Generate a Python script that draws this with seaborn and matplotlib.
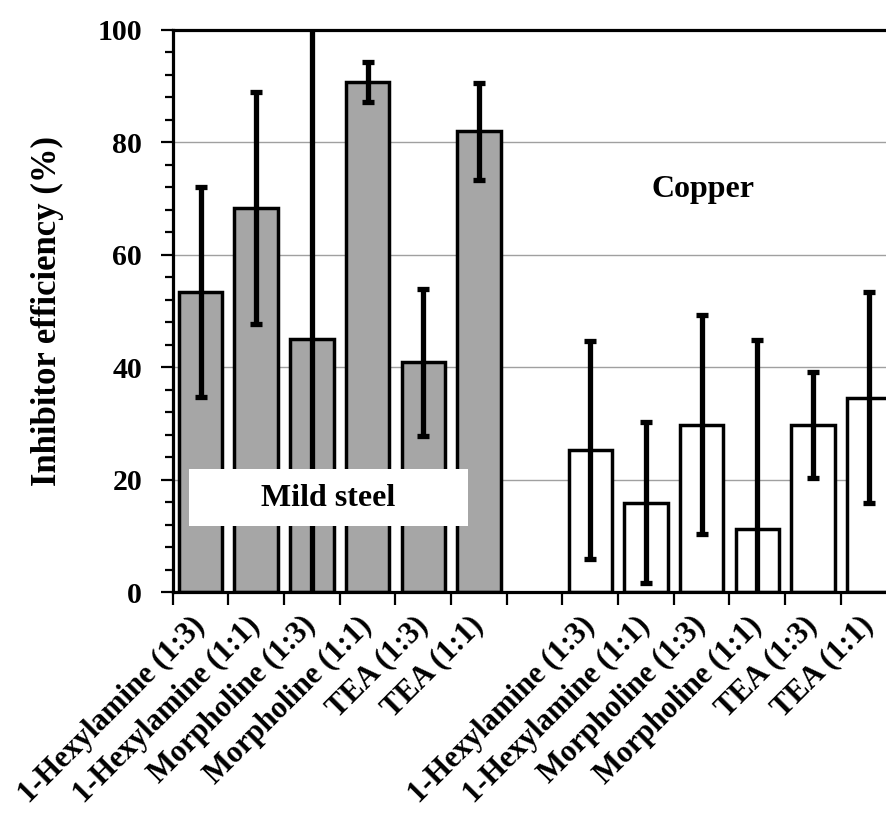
import matplotlib
matplotlib.use("Agg")
import matplotlib.pyplot as plt
from matplotlib.patches import Rectangle
from matplotlib.ticker import MultipleLocator, FixedLocator
import numpy as np
import pandas as pd
import seaborn as sns

# Inhibitor formulations (amine : acid ratio)
inhibitors = ["1-Hexylamine (1:3)", "1-Hexylamine (1:1)", "Morpholine (1:3)",
              "Morpholine (1:1)", "TEA (1:3)", "TEA (1:1)"]

# Mean inhibitor efficiency (%) and error (+/-) for each metal
steel_eff = [53.4, 68.3, 45.1, 90.7, 40.9, 82.0]
steel_err = [18.6, 20.6, 57.0, 3.6, 13.1, 8.6]
copper_eff = [25.3, 15.9, 29.8, 11.3, 29.8, 34.6]
copper_err = [19.4, 14.3, 19.5, 33.5, 9.4, 18.8]

metals = ["Mild steel", "Copper"]
bar_colors = {"Mild steel": "#a6a6a6", "Copper": "white"}

# Long-form table; each bar gets a unique key, with an empty slot between metals
rows = []
for metal, eff, err in [("Mild steel", steel_eff, steel_err),
                        ("Copper", copper_eff, copper_err)]:
    for name, v, e in zip(inhibitors, eff, err):
        rows.append({"key": f"{metal} | {name}", "inhibitor": name,
                     "metal": metal, "eff": v, "err": e})
df = pd.DataFrame(rows)

gap_key = "gap"
order = [f"Mild steel | {n}" for n in inhibitors] + [gap_key] + \
        [f"Copper | {n}" for n in inhibitors]
tick_text = inhibitors + [""] + inhibitors

sns.set_theme(style="white")
plt.rcParams["font.family"] = ["Liberation Serif", "DejaVu Serif"]
plt.rcParams["font.weight"] = "bold"
for key in ["text.color", "axes.labelcolor", "xtick.color", "ytick.color"]:
    plt.rcParams[key] = "black"

fig = plt.figure(figsize=(8.87, 8.14), dpi=100)
ax = fig.add_axes([0.1947, 0.2724, 0.8159, 0.6908])

sns.barplot(data=df, x="key", y="eff", hue="metal", order=order,
            hue_order=metals, palette=bar_colors, dodge=False, width=0.78,
            edgecolor="black", linewidth=2.5, errorbar=None, legend=False,
            ax=ax, zorder=2)

# Error bars at the categorical positions of each bar
pos = [order.index(k) for k in df["key"]]
ax.errorbar(pos, df["eff"], yerr=df["err"], fmt="none", ecolor="black",
            elinewidth=3.8, capsize=4.3, capthick=3.8, zorder=3)

ax.set_ylim(0, 100)
ax.set_xlim(-0.5, len(order) - 0.5)

# Horizontal gridlines behind the bars
ax.yaxis.set_major_locator(MultipleLocator(20))
ax.yaxis.set_minor_locator(MultipleLocator(4))
ax.grid(axis="y", which="major", color="#a0a0a0", linewidth=1.0, zorder=0)
ax.grid(axis="x", visible=False)
ax.set_axisbelow(True)

# Category labels at bar centres, tick marks at category boundaries
ax.xaxis.set_major_locator(FixedLocator(range(len(order))))
ax.set_xticklabels(tick_text, rotation=45, ha="right", va="center",
                   rotation_mode="anchor", fontsize=22, fontweight="bold")
ax.xaxis.set_minor_locator(FixedLocator(np.arange(-0.5, len(order), 1.0)))
ax.tick_params(axis="x", which="major", length=0, pad=21)
ax.tick_params(axis="x", which="minor", length=9, width=1.6,
               direction="out", color="black", bottom=True)

ax.tick_params(axis="y", which="major", length=9, width=1.6, direction="out",
               color="black", labelsize=21.5, pad=13, left=True)
ax.tick_params(axis="y", which="minor", length=6, width=1.6, direction="out",
               color="black", left=True)
for lab in ax.get_yticklabels():
    lab.set_fontweight("bold")

ax.set_xlabel("")
ax.set_ylabel("Inhibitor efficiency (%)", fontsize=25, fontweight="bold")
ax.yaxis.set_label_coords(-0.1735, 0.5)
ax.yaxis.label.set_va("center")

for side in ["left", "bottom", "top", "right"]:
    ax.spines[side].set_visible(True)
    ax.spines[side].set_color("black")
    ax.spines[side].set_linewidth(2.3)

# Group annotations
ax.add_patch(Rectangle((-0.2, 11.7), 5.01, 10.2, facecolor="white",
                       edgecolor="none", zorder=5))
ax.text(2.3, 16.6, "Mild steel", ha="center", va="center", fontsize=23,
        fontweight="bold", zorder=6)
ax.text(9.02, 71.6, "Copper", ha="center", va="center", fontsize=23,
        fontweight="bold", zorder=6)

fig.savefig("out.png", dpi=100)
